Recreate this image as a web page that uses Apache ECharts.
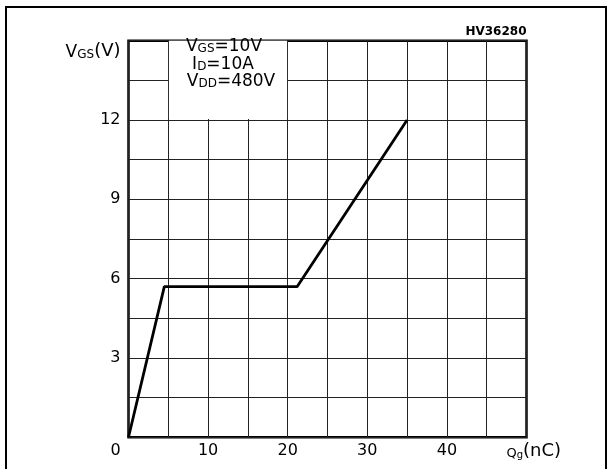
<!DOCTYPE html>
<html>
<head>
<meta charset="utf-8">
<script src="https://cdn.jsdelivr.net/npm/echarts@6/dist/echarts.min.js"></script>
<style>html,body{margin:0;padding:0;background:#fff;}#c{width:614px;height:469px;}</style>
</head>
<body>
<div id="c"></div>
<script>
// Gate charge curve: Qg (nC) vs VGS (V)
const qg = [0, 4.5, 21.2, 35];
const vgs = [0, 5.7, 5.7, 12];
const xTickLabels = [0, 10, 20, 30, 40];
const yTickLabels = [3, 6, 9, 12];
const conditionBox = [[5, 12], [20, 15]];
const drawingCode = 'HV36280';

const FONT = 'DejaVu Sans';
const chart = echarts.init(document.getElementById('c'), null, {renderer: 'canvas'});

const option = {
  animation: false,
  backgroundColor: '#fff',
  grid: {left: 128.5, top: 40.7, right: 87.5, bottom: 31.7, show: true, borderColor: '#000', borderWidth: 2.5, backgroundColor: 'transparent'},
  xAxis: {
    type: 'value', min: 0, max: 50, interval: 5,
    axisLine: {show: false}, axisTick: {show: false},
    splitLine: {show: true, lineStyle: {color: '#222', width: 1}},
    axisLabel: {
      margin: 6, fontFamily: FONT, fontSize: 16, color: '#000',
      formatter: v => v === 0 ? '{z|0}' : (xTickLabels.includes(v) ? String(v) : ''),
      rich: {z: {fontFamily: FONT, fontSize: 16, color: '#000', padding: [0, 26, 0, 0]}}
    },
    name: '{q|Q}{s|g}{p|(nC)}',
    nameLocation: 'end', nameGap: -20,
    nameTextStyle: {
      padding: [26, 0, 0, 0],
      rich: {
        q: {fontFamily: FONT, fontSize: 13, color: '#000', verticalAlign: 'bottom', lineHeight: 18},
        s: {fontFamily: FONT, fontSize: 10, color: '#000', verticalAlign: 'bottom', lineHeight: 18},
        p: {fontFamily: FONT, fontSize: 18, color: '#000', verticalAlign: 'bottom', lineHeight: 20}
      }
    }
  },
  yAxis: {
    type: 'value', min: 0, max: 15, interval: 1.5,
    axisLine: {show: false}, axisTick: {show: false},
    splitLine: {show: true, lineStyle: {color: '#222', width: 1}},
    axisLabel: {
      margin: 8, fontFamily: FONT, fontSize: 16, color: '#000',
      formatter: v => yTickLabels.includes(v) ? String(v) : ''
    },
    name: '{v|V}{s|GS}{p|(V)}',
    nameLocation: 'end', nameGap: -10,
    nameTextStyle: {
      align: 'right', verticalAlign: 'middle', padding: [0, 8, 0, 0],
      rich: {
        v: {fontFamily: FONT, fontSize: 17, color: '#000', verticalAlign: 'bottom', lineHeight: 20},
        s: {fontFamily: FONT, fontSize: 12, color: '#000', verticalAlign: 'bottom', lineHeight: 18},
        p: {fontFamily: FONT, fontSize: 18, color: '#000', verticalAlign: 'bottom', lineHeight: 20}
      }
    }
  },
  series: [{
    type: 'line',
    data: qg.map((q, i) => [q, vgs[i]]),
    symbol: 'none',
    lineStyle: {color: '#000', width: 2.8},
    z: 3,
    markArea: {
      silent: true,
      itemStyle: {color: '#fff'},
      data: [[{coord: [conditionBox[0][0] + 0.08, conditionBox[0][1] + 0.04]}, {coord: [conditionBox[1][0] - 0.08, conditionBox[1][1]]}]]
    }
  }]
};
chart.setOption(option);

const p0 = chart.convertToPixel({gridIndex: 0}, [conditionBox[0][0], conditionBox[1][1]]);
const p1 = chart.convertToPixel({gridIndex: 0}, [conditionBox[1][0], conditionBox[0][1]]);
const cx = (p0[0] + p1[0]) / 2;
const rightEdge = chart.convertToPixel({gridIndex: 0}, [50, 15]);

const subRich = {
  m: {fontFamily: FONT, fontSize: 17, color: '#000', verticalAlign: 'bottom', lineHeight: 19},
  s: {fontFamily: FONT, fontSize: 12, color: '#000', verticalAlign: 'bottom', lineHeight: 18}
};
function line(txt, y, dx) {
  return {type: 'text', x: cx + (dx || 0), y: y, z: 100,
    style: {text: txt, rich: subRich, align: 'center', verticalAlign: 'middle'}};
}
chart.setOption({
  graphic: [
    {type: 'rect', shape: {x: 6, y: 7, width: 600, height: 470}, style: {fill: 'none', stroke: '#000', lineWidth: 2}, z: 100},
    {type: 'text', x: rightEdge[0], y: rightEdge[1] - 9, z: 100,
      style: {text: drawingCode, fontFamily: FONT, fontSize: 12, fontWeight: 'bold', fill: '#000', align: 'right', verticalAlign: 'middle'}},
    line('{m|V}{s|GS}{m|=10V}', p0[1] + 5, -4),
    line('{m|I}{s|D}{m|=10A}', p0[1] + 22.5, -5),
    line('{m|V}{s|DD}{m|=480V}', p0[1] + 39.5, 3)
  ]
});
</script>
</body>
</html>
